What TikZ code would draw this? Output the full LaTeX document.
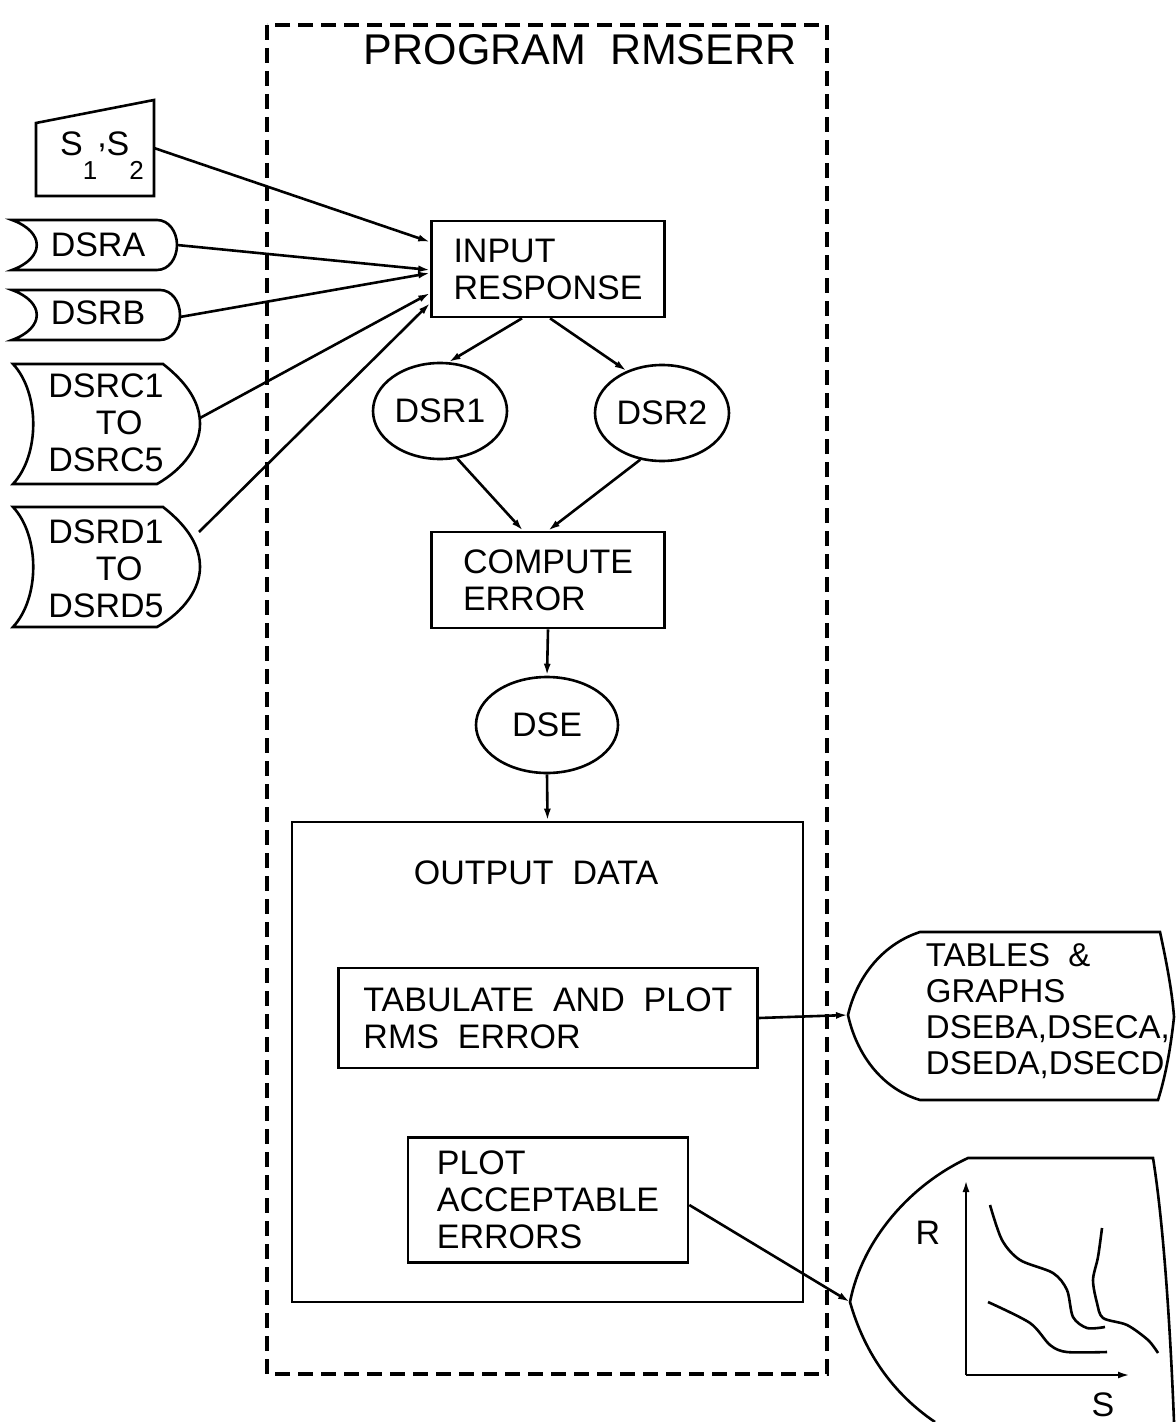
\documentclass[tikz,border=0pt]{standalone}
\usepackage{fontspec}
\setmainfont{Liberation Sans}[WordSpace=2.0]
\usetikzlibrary{arrows.meta,shapes.geometric}

\begin{document}
\begin{tikzpicture}[x=0.5pt,y=-0.5pt,line width=1.3pt,
  every node/.style={font=\fontsize{17}{18.5}\selectfont},
  procbox/.style={draw,rectangle,align=left},
  dataset/.style={draw,ellipse,inner sep=0pt,minimum width=67pt,minimum height=48pt},
  flow/.style={-{Latex[length=6pt,width=3.5pt]}},
  progframe/.style={dash pattern=on 7.5pt off 4pt,line width=1.6pt}]
\useasboundingbox (0,0) rectangle (1176,1422);
\draw[progframe] (267,25) rectangle (827,1374);
\node[font=\fontsize{21.5}{24}\selectfont,anchor=base west] (title) at (356,65) {PROGRAM RMSERR};

\node (sonetwo) at (102,156) {S\raisebox{-12pt}{\fontsize{13}{13}\selectfont 1}\raisebox{4pt}{,}S\raisebox{-12pt}{\fontsize{13}{13}\selectfont 2}};
\draw (36,123) -- (154,100) -- (154,196) -- (36,196) -- cycle;
\coordinate (sout) at (154,148);

\node (dsra) at (98,245) {DSRA};
\draw (12,220) -- (157,220) .. controls (169,220) and (177,232) .. (177,245) .. controls (177,258) and (169,270) .. (157,270) -- (12,270) .. controls (45,258) and (45,232) .. (12,220) -- cycle;
\coordinate (dsraout) at (177,245);

\node (dsrb) at (98,313) {DSRB};
\draw (12,290) -- (160,290) .. controls (172,290) and (180,302) .. (180,315) .. controls (180,328) and (172,340) .. (160,340) -- (12,340) .. controls (45,328) and (45,302) .. (12,290) -- cycle;
\coordinate (dsrbout) at (180,317);

\node[align=left] (dsrc) at (106,423) {DSRC1\\\hspace*{1.4em}TO\\DSRC5};
\draw (13,364) -- (163,364) .. controls (190,385) and (200,405) .. (200,424) .. controls (200,445) and (185,468) .. (157,484) -- (13,484) .. controls (40,455) and (40,393) .. (13,364) -- cycle;
\coordinate (dsrcout) at (200,418);

\node[align=left] (dsrd) at (106,569) {DSRD1\\\hspace*{1.4em}TO\\DSRD5};
\draw (13,507) -- (163,507) .. controls (190,528) and (200,548) .. (200,567) .. controls (200,588) and (185,611) .. (157,627) -- (13,627) .. controls (40,598) and (40,536) .. (13,507) -- cycle;
\coordinate (dsrdout) at (199,532);

\node[procbox,minimum width=116.5pt,minimum height=48pt] (inresp) at (548,269) {INPUT\\RESPONSE};
\node[dataset] (dsrone) at (440,411) {DSR1};
\node[dataset] (dsrtwo) at (662,413) {DSR2};
\node[procbox,minimum width=116.5pt,minimum height=48pt] (comperr) at (548,580) {COMPUTE\\ERROR};
\node[dataset,minimum width=71pt] (dse) at (547,725) {DSE};

\node[draw,rectangle,minimum width=255.5pt,minimum height=240pt] (outdata) at (547.5,1062) {};
\node[anchor=base] (outtitle) at (536,884) {OUTPUT DATA};
\node[procbox,minimum width=209.5pt,minimum height=50pt] (tabplot) at (548,1018) {TABULATE AND PLOT\\RMS ERROR};
\node[procbox,minimum width=140pt,minimum height=62.5pt] (plotacc) at (548,1200) {PLOT\\ACCEPTABLE\\ERRORS};

\node[font=\fontsize{16.5}{18}\selectfont,align=left,anchor=west] (tables) at (918,1011) {TABLES \&\\GRAPHS\\DSEBA,DSECA,\\DSEDA,DSECD};
\draw (920,932) -- (1160,932) .. controls (1166,960) and (1172,990) .. (1174,1017) .. controls (1171,1045) and (1166,1075) .. (1158,1100) -- (920,1100) .. controls (880,1088) and (856,1052) .. (848,1015) .. controls (856,980) and (880,945) .. (920,932) -- cycle;
\coordinate (tabin) at (848,1015);

\draw (935,1422) .. controls (895,1395) and (865,1355) .. (850,1302) .. controls (862,1240) and (910,1185) .. (968,1158) -- (1153,1158) .. controls (1163,1220) and (1170,1320) .. (1174,1422);
\coordinate (graphin) at (850,1302);
\draw[flow] (966,1375) -- (966,1180);
\draw[flow] (966,1375) -- (1130,1375);
\node (rlabel) at (928,1233) {R};
\node (slabel) at (1103,1405) {S};
\draw plot[smooth] coordinates {(990,1205) (1002,1240) (1020,1260) (1053,1273) (1067,1290) (1073,1317) (1087,1328) (1105,1327)};
\draw plot[smooth] coordinates {(988,1302) (1030,1323) (1050,1345) (1067,1352) (1107,1352)};
\draw plot[smooth] coordinates {(1102,1228) (1098,1257) (1093,1280) (1097,1303) (1103,1318) (1127,1325) (1148,1340) (1158,1353)};

\draw[flow] (sout) -- ([yshift=13.5pt]inresp.west);
\draw[flow] (dsraout) -- ([yshift=-0.5pt]inresp.west);
\draw[flow] (dsrbout) -- ([yshift=-2pt]inresp.west);
\draw[flow] (dsrcout) -- ([yshift=-12pt]inresp.west);
\draw[flow] (dsrdout) -- ([yshift=-17pt]inresp.west);
\draw[flow] ([xshift=-13pt]inresp.south) -- (dsrone.80);
\draw[flow] ([xshift=1pt]inresp.south) -- (dsrtwo.130);
\draw[flow] (dsrone.-70) -- ([xshift=-12.5pt]comperr.north);
\draw[flow] (dsrtwo.-115) -- (comperr.north);
\draw[flow] (comperr.south) -- (dse.north);
\draw[flow] (dse.south) -- (outdata.north);
\draw[flow] (tabplot.east) -- (tabin);
\draw[flow] ([yshift=-2.5pt]plotacc.east) -- (graphin);
\end{tikzpicture}
\end{document}
